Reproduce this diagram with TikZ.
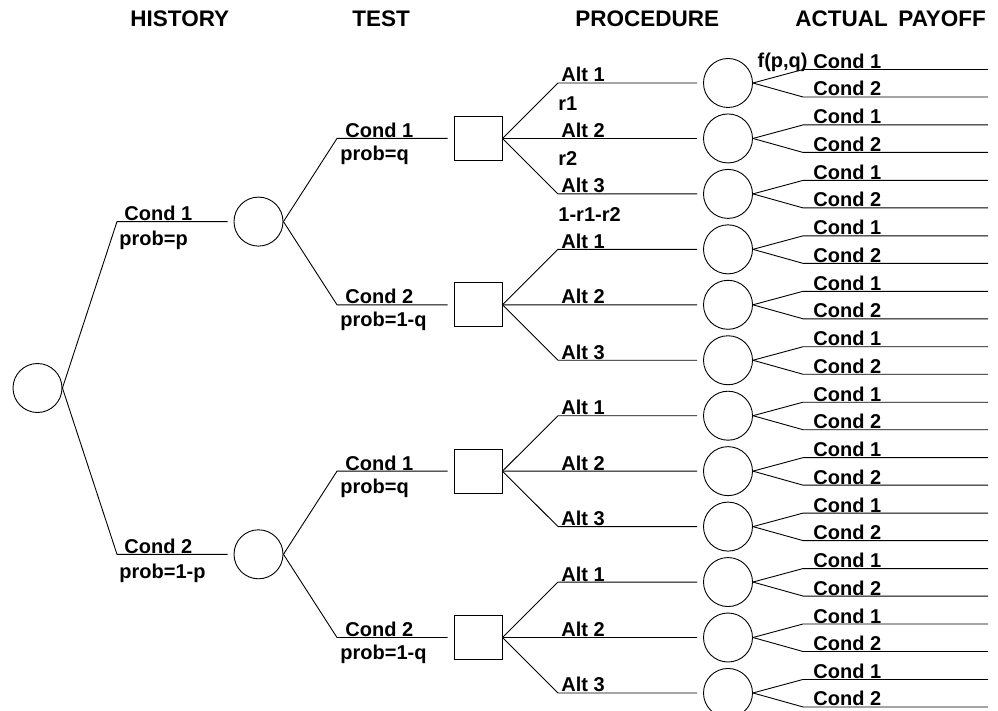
\documentclass[tikz,border=0pt]{standalone}
\usepackage{fontspec}
\setmainfont{Liberation Sans}
\begin{document}
\begin{tikzpicture}[x=1pt,y=-1pt,line width=0.9pt,
  chance/.style={circle,draw,minimum size=49pt,inner sep=0pt},
  decision/.style={rectangle,draw,minimum width=48pt,minimum height=44pt,inner sep=0pt},
  conn/.style={shorten >=6pt},
  lbl/.style={anchor=base west,inner sep=0pt,font=\fontsize{20}{24}\selectfont\bfseries},
  lble/.style={anchor=base east,inner sep=0pt,font=\fontsize{20}{24}\selectfont\bfseries},
  head/.style={anchor=base west,inner sep=0pt,font=\fontsize{22.5}{27}\selectfont\bfseries}]
\useasboundingbox (0,0) rectangle (998,711);

% headers
\node[head] (hh) at (130,27) {HISTORY};
\node[head] (ht) at (352,27) {TEST};
\node[head] (hp) at (575,27) {PROCEDURE};
\node[head] (ha) at (795,27) {ACTUAL};
\node[head] (hy) at (898,27) {PAYOFF};

% nodes
\node[chance] (root) at (37.5,388) {};
\node[chance] (h1) at (258.5,221.6) {};
\node[chance] (h2) at (258.5,554.3) {};
\node[decision] (t1) at (478,138.45) {};
\node[decision] (t2) at (478,304.8) {};
\node[decision] (t3) at (478,471.15) {};
\node[decision] (t4) at (478,637.5) {};
\foreach \i in {0,...,11}{
  \pgfmathsetmacro\y{83+55.45*\i}
  \node[chance] (p\i) at (728,\y) {};
  \coordinate (ea\i) at (988,\y-13.5);
  \coordinate (eb\i) at (988,\y+14);
  \draw (p\i.east) -- (803,0 |- ea\i) -- (ea\i);
  \draw (p\i.east) -- (803,0 |- eb\i) -- (eb\i);
  \node[lbl] (la\i) at (813,\y-14.5) {Cond 1};
  \node[lbl] (lb\i) at (813,\y+13) {Cond 2};
  \pgfmathtruncatemacro\k{mod(\i,3)+1}
  \node[lbl] (alt\i) at (561,\y-1) {Alt \k};
}
\node[lble] (fpq) at (808,68) {f(p,q)};

% root to history
\draw[conn] (root.east) -- (117,0 |- h1) -- (h1);
\draw[conn] (root.east) -- (117,0 |- h2) -- (h2);
\node[lbl] (hc1) at (124,220.6) {Cond 1};
\node[lbl] (hp1) at (119,245.6) {prob=p};
\node[lbl] (hc2) at (124,553.3) {Cond 2};
\node[lbl] (hp2) at (119,578.3) {prob=1-p};

% history to test
\draw[conn] (h1.east) -- (337,0 |- t1) -- (t1);
\draw[conn] (h1.east) -- (337,0 |- t2) -- (t2);
\draw[conn] (h2.east) -- (337,0 |- t3) -- (t3);
\draw[conn] (h2.east) -- (337,0 |- t4) -- (t4);
\node[lbl] (tc1) at (345,137.45) {Cond 1};
\node[lbl] (tp1) at (340,160.45) {prob=q};
\node[lbl] (tc2) at (345,303.8) {Cond 2};
\node[lbl] (tp2) at (340,326.8) {prob=1-q};
\node[lbl] (tc3) at (345,470.15) {Cond 1};
\node[lbl] (tp3) at (340,493.15) {prob=q};
\node[lbl] (tc4) at (345,636.5) {Cond 2};
\node[lbl] (tp4) at (340,659.5) {prob=1-q};

% test to procedure
\draw[conn] (t1.east) -- (558,0 |- p0) -- (p0);
\draw[conn] (t1.east) -- (p1);
\draw[conn] (t1.east) -- (558,0 |- p2) -- (p2);
\draw[conn] (t2.east) -- (558,0 |- p3) -- (p3);
\draw[conn] (t2.east) -- (p4);
\draw[conn] (t2.east) -- (558,0 |- p5) -- (p5);
\draw[conn] (t3.east) -- (558,0 |- p6) -- (p6);
\draw[conn] (t3.east) -- (p7);
\draw[conn] (t3.east) -- (558,0 |- p8) -- (p8);
\draw[conn] (t4.east) -- (558,0 |- p9) -- (p9);
\draw[conn] (t4.east) -- (p10);
\draw[conn] (t4.east) -- (558,0 |- p11) -- (p11);

\node[lbl] (r1) at (558,110.5) {r1};
\node[lbl] (r2) at (558,166) {r2};
\node[lbl] (r3) at (558,221.5) {1-r1-r2};
\end{tikzpicture}
\end{document}
